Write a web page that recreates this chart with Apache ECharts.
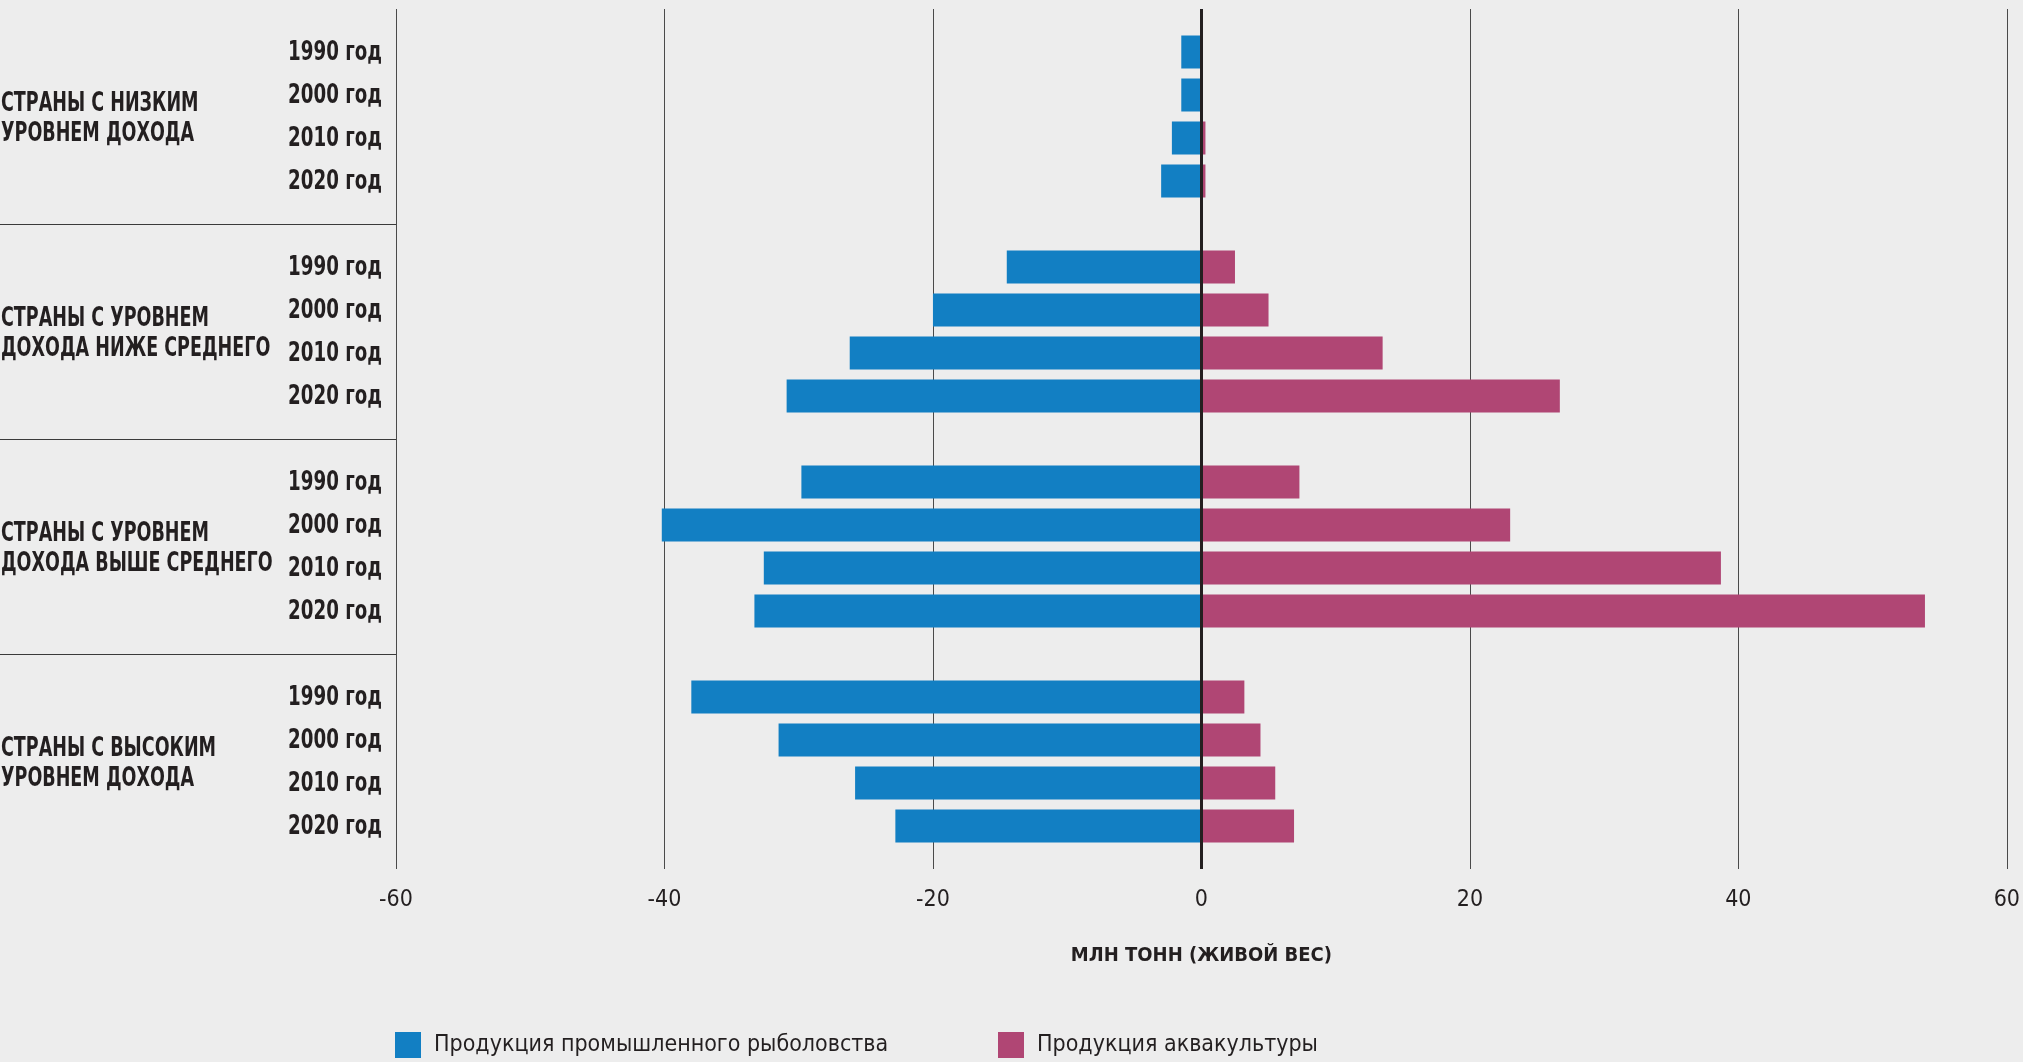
<!DOCTYPE html>
<html>
<head>
<meta charset="utf-8">
<script src="https://cdn.jsdelivr.net/npm/echarts@6/dist/echarts.min.js"></script>
<style>
html,body{margin:0;padding:0;background:#EDEDED;}
#chart{width:2023px;height:1062px;}
</style>
</head>
<body>
<div id="chart"></div>
<script>
const years = ['1990 год', '2000 год', '2010 год', '2020 год'];
const groupLabels = [
  ['СТРАНЫ С НИЗКИМ', 'УРОВНЕМ ДОХОДА'],
  ['СТРАНЫ С УРОВНЕМ', 'ДОХОДА НИЖЕ СРЕДНЕГО'],
  ['СТРАНЫ С УРОВНЕМ', 'ДОХОДА ВЫШЕ СРЕДНЕГО'],
  ['СТРАНЫ С ВЫСОКИМ', 'УРОВНЕМ ДОХОДА']
];
const captureLow = [-1.5, -1.5, -2.2, -3.0];
const captureLowerMiddle = [-14.5, -20.0, -26.2, -30.9];
const captureUpperMiddle = [-29.8, -40.2, -32.6, -33.3];
const captureHigh = [-38.0, -31.5, -25.8, -22.8];
const aquaLow = [0.1, 0.1, 0.3, 0.3];
const aquaLowerMiddle = [2.5, 5.0, 13.5, 26.7];
const aquaUpperMiddle = [7.3, 23.0, 38.7, 53.9];
const aquaHigh = [3.2, 4.4, 5.5, 6.9];
const xTicks = [-60, -40, -20, 0, 20, 40, 60];
const seriesNames = ['Продукция промышленного рыболовства', 'Продукция аквакультуры'];
const axisTitle = 'МЛН ТОНН (ЖИВОЙ ВЕС)';

const captureGroups = [captureLow, captureLowerMiddle, captureUpperMiddle, captureHigh];
const aquaGroups = [aquaLow, aquaLowerMiddle, aquaUpperMiddle, aquaHigh];

const categories = [];
const captureData = [];
const aquaData = [];
const yearLabelData = [];
groupLabels.forEach((g, gi) => {
  categories.push('gap' + gi); captureData.push(null); aquaData.push(null);
  years.forEach((y, yi) => {
    const key = gi + '|' + y;
    categories.push(key);
    captureData.push(captureGroups[gi][yi]);
    aquaData.push(aquaGroups[gi][yi]);
    yearLabelData.push({ value: [xTicks[0], key], name: y });
  });
});
categories.push('gap' + groupLabels.length); captureData.push(null); aquaData.push(null);

const groupPoints = groupLabels.map((g, gi) => ({ value: [0, gi * 5 + 2.5], name: g.join('\n') }));

const FONT = '"DejaVu Sans Condensed", "DejaVu Sans", sans-serif';
const TXT = '#231f20';
const BLUE = '#127FC3';
const MAG = '#B04674';

const chart = echarts.init(document.getElementById('chart'));
chart.setOption({
  backgroundColor: '#EDEDED',
  animation: false,
  textStyle: { fontFamily: FONT, color: TXT },
  grid: [
    { left: 396, right: 12, top: 9, bottom: 193 },
    { left: 0, width: 396, top: 9, bottom: 193 }
  ],
  xAxis: [
    {
      gridIndex: 0, type: 'value', min: xTicks[0], max: xTicks[xTicks.length - 1], interval: 20,
      axisLine: { show: false }, axisTick: { show: false },
      splitLine: { show: true, lineStyle: { color: '#4a4a4a', width: 1 } },
      axisLabel: { fontFamily: FONT, fontSize: 23, color: TXT, margin: 20 },
      name: axisTitle, nameLocation: 'middle', nameGap: 77,
      nameTextStyle: { fontFamily: FONT, fontSize: 20, fontWeight: 'bold', color: TXT }
    },
    { gridIndex: 1, type: 'value', min: 0, max: 1, show: false }
  ],
  yAxis: [
    {
      gridIndex: 0, type: 'category', data: categories, inverse: true, boundaryGap: false,
      axisLine: { show: false }, axisTick: { show: false }, splitLine: { show: false },
      axisLabel: { show: false }
    },
    {
      gridIndex: 1, type: 'value', min: 0, max: 20, interval: 5, inverse: true,
      axisLine: { show: false }, axisTick: { show: false }, axisLabel: { show: false },
      splitLine: { show: true, showMinLine: false, showMaxLine: false, lineStyle: { color: '#3a3a3a', width: 1.2 } }
    }
  ],
  legend: [
    {
      data: [seriesNames[0]], left: 395, top: 1032, padding: 0, itemWidth: 26, itemHeight: 26,
      icon: 'rect', textStyle: { fontFamily: FONT, fontSize: 23, color: TXT, padding: [0, 0, 0, 8] }
    },
    {
      data: [seriesNames[1]], left: 998, top: 1032, padding: 0, itemWidth: 26, itemHeight: 26,
      icon: 'rect', textStyle: { fontFamily: FONT, fontSize: 23, color: TXT, padding: [0, 0, 0, 8] }
    }
  ],
  series: [
    {
      name: seriesNames[0], type: 'bar', xAxisIndex: 0, yAxisIndex: 0, data: captureData,
      barWidth: 33, barGap: '-100%', itemStyle: { color: BLUE },
      markLine: {
        silent: true, symbol: 'none', label: { show: false },
        lineStyle: { color: '#231f20', width: 3, type: 'solid' },
        data: [{ xAxis: 0 }]
      }
    },
    {
      name: seriesNames[1], type: 'bar', xAxisIndex: 0, yAxisIndex: 0, data: aquaData,
      barWidth: 33, barGap: '-100%', itemStyle: { color: MAG }
    },
    {
      type: 'custom', xAxisIndex: 0, yAxisIndex: 0, data: yearLabelData, silent: true, clip: false,
      renderItem: (params, api) => {
        const p = api.coord([api.value(0), api.value(1)]);
        return {
          type: 'text', x: p[0] - 14, y: p[1] + 1, scaleX: 0.78,
          style: {
            text: yearLabelData[params.dataIndex].name, fill: TXT,
            fontFamily: FONT, fontSize: 26, fontWeight: 'bold', align: 'right', verticalAlign: 'middle'
          }
        };
      }
    },
    {
      type: 'custom', xAxisIndex: 1, yAxisIndex: 1, data: groupPoints, silent: true, clip: false,
      renderItem: (params, api) => {
        const p = api.coord([api.value(0), api.value(1)]);
        return {
          type: 'text', x: p[0] + 1, y: p[1] + 3, scaleX: 0.75,
          style: {
            text: groupPoints[params.dataIndex].name, fill: TXT, lineHeight: 30,
            fontFamily: FONT, fontSize: 26, fontWeight: 'bold', align: 'left', verticalAlign: 'middle'
          }
        };
      }
    }
  ]
});
</script>
</body>
</html>
